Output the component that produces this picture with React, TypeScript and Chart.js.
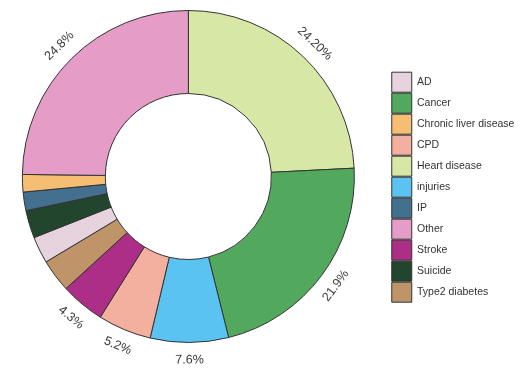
import React, { useEffect, useRef } from "react";
import { Chart, registerables } from "chart.js";

Chart.register(...registerables);

// Slices, clockwise from 12 o'clock
const categories = [
  "Heart disease",
  "Cancer",
  "injuries",
  "CPD",
  "Stroke",
  "Type2 diabetes",
  "AD",
  "Suicide",
  "IP",
  "Chronic liver disease",
  "Other",
];
const shares = [24.2, 21.9, 7.6, 5.2, 4.3, 3.2, 2.6, 2.7, 1.8, 1.7, 24.8];
const percentLabels = ["24.20%", "21.9%", "7.6%", "5.2%", "4.3%", "", "", "", "", "", "24.8%"];
const sliceColors = [
  "#D7E7A5",
  "#52A95D",
  "#5BC3F1",
  "#F3B09E",
  "#AD2E87",
  "#BF9468",
  "#E6D3DE",
  "#21452D",
  "#44708F",
  "#F5BE72",
  "#E59CC6",
];
// legend order (alphabetical, case-insensitive)
const legendOrder = [
  "AD",
  "Cancer",
  "Chronic liver disease",
  "CPD",
  "Heart disease",
  "injuries",
  "IP",
  "Other",
  "Stroke",
  "Suicide",
  "Type2 diabetes",
];

const FONT = "'Liberation Sans', Arial, Helvetica, sans-serif";

const outerLabelPlugin = {
  id: "outerLabels",
  afterDatasetsDraw(chart: any) {
    const meta = chart.getDatasetMeta(0);
    const ctx = chart.ctx;
    ctx.save();
    ctx.font = `12.5px ${FONT}`;
    ctx.fillStyle = "#3a3a3a";
    ctx.textAlign = "center";
    ctx.textBaseline = "middle";
    meta.data.forEach((arc: any, i: number) => {
      const text = percentLabels[i];
      if (!text) return;
      const { x, y, startAngle, endAngle, outerRadius } = arc.getProps(
        ["x", "y", "startAngle", "endAngle", "outerRadius"],
        true
      );
      const mid = (startAngle + endAngle) / 2;
      const r = outerRadius + 17.5;
      const px = x + r * Math.cos(mid);
      const py = y + r * Math.sin(mid);
      let rot = mid + Math.PI / 2;
      while (rot > Math.PI) rot -= 2 * Math.PI;
      while (rot <= -Math.PI) rot += 2 * Math.PI;
      if (rot > Math.PI / 2) rot -= Math.PI;
      if (rot < -Math.PI / 2) rot += Math.PI;
      ctx.save();
      ctx.translate(px, py);
      ctx.rotate(rot);
      ctx.fillText(text, 0, 0);
      ctx.restore();
    });
    ctx.restore();
  },
};

export default function App() {
  const ref = useRef<HTMLCanvasElement | null>(null);

  useEffect(() => {
    if (!ref.current) return;
    const chart = new Chart(ref.current, {
      type: "doughnut",
      data: {
        labels: categories,
        datasets: [
          {
            data: shares,
            backgroundColor: sliceColors,
            borderColor: "#333333",
            borderWidth: 1,
          },
        ],
      },
      options: {
        responsive: false,
        animation: false,
        radius: 166,
        cutout: "50%",
        layout: { padding: { top: 0, bottom: 16, left: 0, right: 3 } },
        plugins: {
          tooltip: { enabled: false },
          title: {
            display: true,
            position: "right",
            text: "",
            padding: { top: 1, bottom: 1 },
            font: { size: 10, lineHeight: 1.2 },
          },
          legend: {
            position: "right",
            weight: 3000,
            title: {
              display: true,
              text: "",
              padding: { top: 7, bottom: 0 },
              font: { size: 12 },
            },
            labels: {
              boxWidth: 20,
              boxHeight: 20,
              padding: 1,
              color: "#333333",
              font: { size: 10.5, family: FONT },
              sort: (a: any, b: any) =>
                legendOrder.indexOf(a.text) - legendOrder.indexOf(b.text),
            },
          },
        },
      } as any,
      plugins: [outerLabelPlugin],
    });
    return () => chart.destroy();
  }, []);

  return (
    <div style={{ position: "fixed", left: 0, top: 0, width: 524, height: 369, background: "#fff" }}>
      <canvas ref={ref} width={524} height={369} style={{ display: "block" }} />
    </div>
  );
}
